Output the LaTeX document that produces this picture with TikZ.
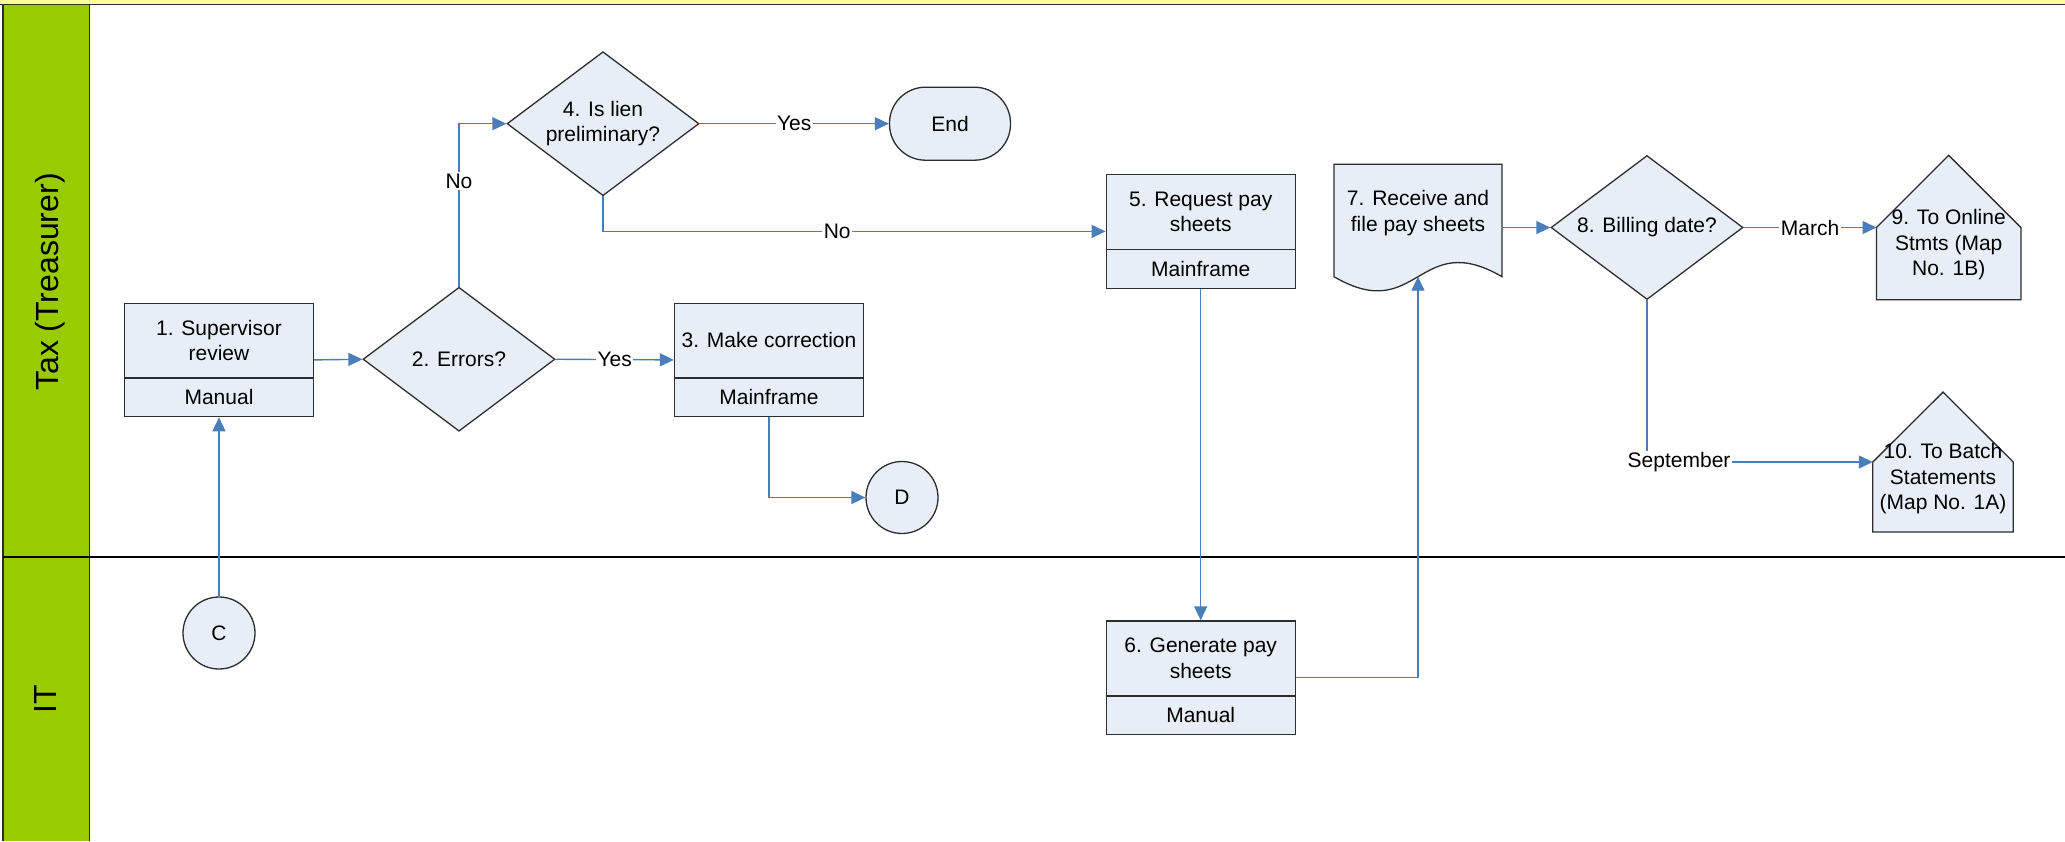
\documentclass[tikz,border=0pt]{standalone}
\usepackage{fontspec}
\setmainfont{Liberation Sans}
\usetikzlibrary{arrows.meta,shapes.geometric}
\definecolor{shapefill}{RGB}{232,238,247}
\definecolor{conblue}{RGB}{74,126,187}
\definecolor{lanegreen}{RGB}{153,204,0}
\definecolor{titleyellow}{RGB}{255,255,153}
\definecolor{edgegray}{RGB}{45,45,45}
\newcommand\mkproc[5]{%
  \node[procbox] (#1) at (#2,#3) {};
  \draw[shapeline] ([yshift=-75.6pt]#1.north west) -- ([yshift=-75.6pt]#1.north east);
  \node[txt] (#1main) at ([yshift=-37.8pt]#1.north) {#4};
  \node[txt] (#1sub) at ([yshift=-94.8pt]#1.north) {#5};}
\begin{document}
\begin{tikzpicture}[x=1pt,y=-1pt,
  txt/.style={font=\fontsize{21}{25.5}\selectfont, align=center, inner sep=0pt},
  shapeline/.style={draw=edgegray, line width=1.3pt},
  procbox/.style={shapeline, fill=shapefill, minimum width=189pt, minimum height=113.5pt, inner sep=0pt, anchor=north},
  dec/.style={diamond, shapeline, fill=shapefill, minimum width=192pt, minimum height=144pt, inner sep=0pt},
  conn/.style={draw=conblue, line width=1.4pt, -{Triangle[length=14pt,width=13pt]}},
  lbl/.style={txt, fill=white, inner sep=1.5pt},
  lanelbl/.style={font=\fontsize{32}{36}\selectfont, rotate=90, anchor=base, inner sep=0pt},
  connector/.style={circle, shapeline, fill=shapefill, minimum size=72pt, inner sep=0pt, font=\fontsize{21}{25.5}\selectfont}
]
\useasboundingbox (0,0) rectangle (2065,841);
% background and lanes
\fill[white] (0,0) rectangle (2065,841);
\fill[titleyellow] (0,0) rectangle (2065,4.5);
\fill[lanegreen] (2.5,4.5) rectangle (89.5,841);
\draw[edgegray, line width=1.5pt] (0,4.5) -- (2065,4.5);
\draw[edgegray, line width=2pt] (2.5,4.5) -- (2.5,841);
\draw[edgegray, line width=1.5pt] (89.5,4.5) -- (89.5,841);
\draw[black, line width=1.5pt] (2.5,557) -- (2065,557);
\node[lanelbl] (lane1) at (58,282) {Tax (Treasurer)};
\node[lanelbl] (lane2) at (56,699) {IT};

% process boxes
\mkproc{b1}{219}{302.5}{1. Supervisor\\review}{Manual}
\mkproc{b3}{769}{302.5}{3. Make correction}{Mainframe}
\mkproc{b5}{1200.7}{174}{5. Request pay\\sheets}{Mainframe}
\mkproc{b6}{1200.7}{620.3}{6. Generate pay\\sheets}{Manual}

% decisions
\node[dec] (d2) at (459,359.25) {};
\node[txt] (d2t) at (d2) {2. Errors?};
\node[dec] (d4) at (603,123.7) {};
\node[txt] (d4t) at (d4) {4. Is lien\\preliminary?};
\node[dec] (d8) at (1647,227.5) {};
\node[txt] (d8t) at (d8) {8. Billing date?};

% terminator
\node[shapeline, fill=shapefill, rounded corners=36pt, minimum width=121pt, minimum height=73pt, inner sep=0pt, font=\fontsize{21}{25.5}\selectfont] (end) at (950,123.7) {End};

% off-page connectors
\node[connector] (C) at (219,633) {C};
\node[connector] (D) at (902,497.5) {D};

% document shape
\node[inner sep=0pt, minimum width=168pt, minimum height=126.4pt] (doc7) at (1418,227.5) {};
\filldraw[shapeline, fill=shapefill] (1334,164.3) -- (1502,164.3) -- (1502,276.7)
  .. controls (1418,227.7) and (1418,325.7) .. (1334,276.7) -- cycle;
\node[txt] (doc7t) at (1418,213) {7. Receive and\\file pay sheets};
\coordinate (doc7bot) at (1418,276.7);

% off-page references (pentagons)
\node[inner sep=0pt, minimum width=144pt, minimum height=144pt] (p9) at (1948.7,227.5) {};
\filldraw[shapeline, fill=shapefill] (p9.north) -- (p9.east) -- (p9.south east) -- (p9.south west) -- (p9.west) -- cycle;
\node[txt] (p9t) at ([yshift=-17.5pt]p9.center) {9. To Online\\Stmts (Map\\No. 1B)};
\node[inner sep=0pt, minimum width=140pt, minimum height=139.4pt] (p10) at (1943,462) {};
\filldraw[shapeline, fill=shapefill] (p10.north) -- (p10.east) -- (p10.south east) -- (p10.south west) -- (p10.west) -- cycle;
\node[txt] (p10t) at ([yshift=-16.7pt]p10.center) {10. To Batch\\Statements\\(Map No. 1A)};

% connectors
\draw[conn] (b1.east) -- (d2.west);
\draw[conn] (d2.east) -- node[lbl] {Yes} (b3.west);
\draw[conn] (d2.north) |- node[lbl, pos=0.324] {No} (d4.west);
\draw[conn] (d4.east) -- node[lbl] {Yes} (end.west);
\draw[conn] (d4.south) |- node[lbl, pos=0.733] {No} (b5.west);
\draw[conn] (b3.south) |- (D.west);
\draw[conn] (C.north) -- (b1.south);
\draw[conn] (b5.south) -- (b6.north);
\draw[conn] (b6.east) -| (doc7bot);
\draw[conn] (doc7.east) -- (d8.west);
\draw[conn] (d8.east) -- node[lbl] {March} (p9.west);
\draw[conn] (d8.south) |- node[lbl, pos=0.571] {September} (p10.west);
\end{tikzpicture}
\end{document}
